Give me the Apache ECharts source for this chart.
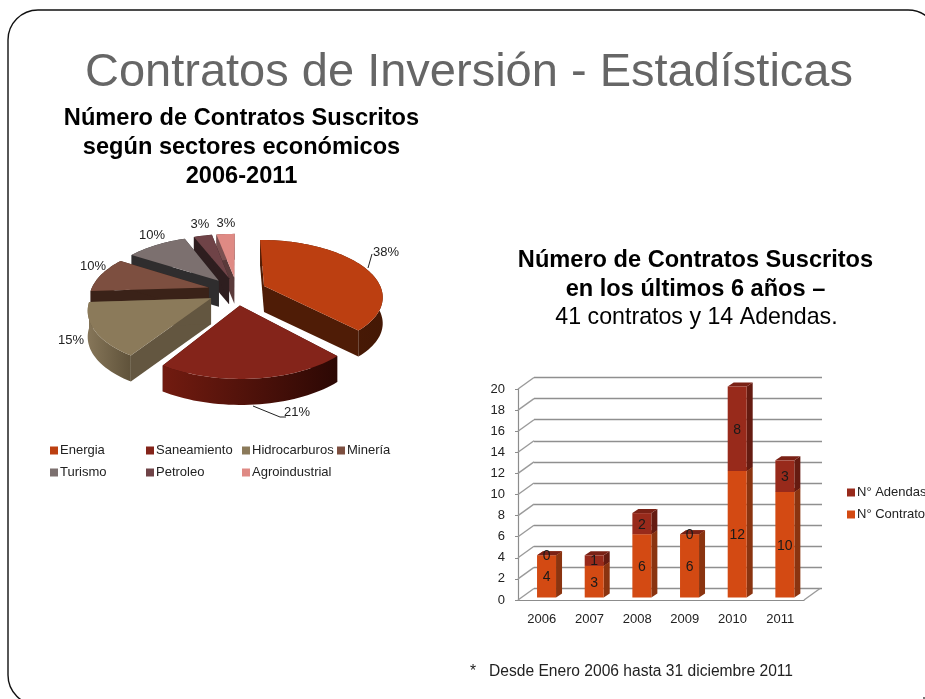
<!DOCTYPE html>
<html><head><meta charset="utf-8">
<style>html,body{margin:0;padding:0;background:#fff;overflow:hidden}#c{width:925px;height:699px}</style>
<script src="https://cdn.jsdelivr.net/npm/echarts@6/dist/echarts.min.js"></script>
</head><body><div id="c"></div>
<script>
// ---- data ----
const sectors = ['Energia','Saneamiento','Hidrocarburos','Minería','Turismo','Petroleo','Agroindustrial'];
const sectorShares = [38,21,15,10,10,3,3];
const years = ['2006','2007','2008','2009','2010','2011'];
const contratos = [4,3,6,6,12,10];
const adendas = [0,1,2,0,8,3];
const yTicks = [0,2,4,6,8,10,12,14,16,18,20];

// ---- styling ----
const FONT = '"Liberation Sans", Arial, sans-serif';
const topColors = ['#BC3F11','#84241A','#8B7A5A','#7D4F40','#7C706F','#6F4347','#DF8A84'];
const wallColors = [['#521D06','#441805'],['#721B10','#2C0804'],['#867659','#5F523A'],['#3A2218','#3A2218'],['#2F2D2E','#2F2D2E'],['#2E1E1F','#2E1E1F'],['#7A5050','#7A5050']];
const cutColors = ['#4F1C06','#3B0C06','#635640','#3A2218','#2F2D2E','#2E1E1F','#5A3A3A'];
const paintRank = [5,6,4,3,2,1,0];
const labelAnchors = [[386,252],[297,412],[71,340],[93,266],[152,235],[200,224],[226,223]];
const leaders = {0:[[368,268],[372,254]],1:[[253,406],[280,417],[286,417]]};
const PIE = {cx:237,cy:291,S:118,t:0.47,k:0.17,ex:0.25,depth:26};

const total = sectorShares.reduce((a,b)=>a+b,0);
const spans = []; { let a=0; sectorShares.forEach(v=>{const d=v/total*360; spans.push([a,a+d]); a+=d;}); }
const rad = d=>d*Math.PI/180;
function proj(i,theta,r,z){
  const mid = rad((spans[i][0]+spans[i][1])/2), th = rad(theta);
  const u = PIE.ex*Math.sin(mid)+r*Math.sin(th), v = -PIE.ex*Math.cos(mid)-r*Math.cos(th);
  const p = 1/(1-PIE.k*v);
  return [PIE.cx+PIE.S*u*p, PIE.cy+PIE.S*PIE.t*v*p+(z||0)];
}
function pieItem(i){
  return function(){
    const [a,b]=spans[i], arc=[], n=Math.max(4,Math.ceil((b-a)/2));
    for(let j=0;j<=n;j++) arc.push(a+(b-a)*j/n);
    const topPts=[proj(i,a,0)].concat(arc.map(t=>proj(i,t,1)));
    const wall=arc.map(t=>proj(i,t,1)).concat(arc.slice().reverse().map(t=>proj(i,t,1,PIE.depth)));
    const cut=t=>[proj(i,t,0),proj(i,t,1),proj(i,t,1,PIE.depth),proj(i,t,0,PIE.depth)];
    const poly=(pts,fill)=>({type:'polygon',shape:{points:pts},style:{fill:fill,stroke:null}});
    const grad=new echarts.graphic.LinearGradient(0,0,1,0,[{offset:0,color:wallColors[i][0]},{offset:1,color:wallColors[i][1]}]);
    const kids=[poly(cut(a),cutColors[i]),poly(cut(b),cutColors[i]),poly(wall,grad),poly(topPts,topColors[i])];
    if(leaders[i]) kids.push({type:'polyline',shape:{points:leaders[i]},style:{stroke:'#222',lineWidth:1,fill:null}});
    kids.push({type:'text',x:labelAnchors[i][0],y:labelAnchors[i][1],style:{text:sectorShares[i]+'%',font:'13px '+FONT,fill:'#222',textAlign:'center',textVerticalAlign:'middle'}});
    return {type:'group',children:kids};
  };
}
const pieSeries = sectors.map((name,i)=>({
  type:'custom',name:name,coordinateSystem:'none',z:10+paintRank[i],silent:true,
  itemStyle:{color:topColors[i]},data:[[sectorShares[i]]],renderItem:pieItem(i)
}));

// ---- 3D stacked bars ----
const BAR={w:19,dx:4.7,dy:2.5,sx:6,sy:4};
const WALL={dx:16,dy:-11.5};
function barItem(front,side,topc){
  return function(params,api){
    const cat=api.value(0), lo=api.value(1), hi=api.value(2), val=hi-lo;
    const a=api.coord([cat,lo]), b=api.coord([cat,hi]);
    const x0=a[0]+BAR.dx-BAR.w/2, x1=x0+BAR.w, y0=a[1]-BAR.dy, y1=b[1]-BAR.dy;
    const poly=(pts,f)=>({type:'polygon',shape:{points:pts},style:{fill:f}});
    const kids=[
      poly([[x1,y0],[x1+BAR.sx,y0-BAR.sy],[x1+BAR.sx,y1-BAR.sy],[x1,y1]],side),
      poly([[x0,y1],[x0+BAR.sx,y1-BAR.sy],[x1+BAR.sx,y1-BAR.sy],[x1,y1]],topc),
      {type:'rect',shape:{x:x0,y:y1,width:BAR.w,height:y0-y1},style:{fill:front}},
      {type:'text',z2:5,x:(x0+x1)/2,y:(y0+y1)/2+1,style:{text:String(val),font:'14px '+FONT,fill:'#1a1a1a',textAlign:'center',textVerticalAlign:'middle'}}
    ];
    return {type:'group',children:kids};
  };
}
const wallDiagonals = function(params,api){
  const v=api.value(0), l=api.coord([0,v]);
  const x=l[0]-api.size([1,0])[0]/2;
  return {type:'line',shape:{x1:x,y1:l[1],x2:x+WALL.dx,y2:l[1]+WALL.dy},style:{stroke:'#9a9a9a',lineWidth:1.4}};
};
const floorEdge = function(params,api){
  const s=api.coord([years.length-1,0]); const w=api.size([1,0])[0];
  const x=s[0]+w/2;
  return {type:'line',shape:{x1:x,y1:s[1],x2:x+WALL.dx,y2:s[1]+WALL.dy},style:{stroke:'#9a9a9a',lineWidth:1.4}};
};
const contratoRows=years.map((y,i)=>[i,0,contratos[i]]);
const adendaRows=years.map((y,i)=>[i,contratos[i],contratos[i]+adendas[i]]);

const gridBox={left:518,top:389,width:286,height:211};
const titleStyle=(size,weight,color,lh)=>({fontFamily:FONT,fontSize:size,fontWeight:weight,color:color,lineHeight:lh,align:'center'});
const chart=echarts.init(document.getElementById('c'),null,{renderer:'canvas'});
chart.setOption({
  animation:false,backgroundColor:'#fff',
  title:[
    {text:'Contratos de Inversión - Estadísticas',left:469,top:43,textAlign:'center',textStyle:titleStyle(47,'normal','#666666',60),padding:0},
    {text:'Número de Contratos Suscritos\nsegún sectores económicos\n2006-2011',left:241.5,top:104,textAlign:'center',textStyle:titleStyle(23.6,'bold','#000',29),padding:0},
    {text:'Número de Contratos Suscritos\nen los últimos 6 años –',left:695.5,top:246,textAlign:'center',textStyle:titleStyle(23.6,'bold','#000',29),padding:0},
    {text:'41 contratos y 14 Adendas.',left:696.5,top:303,textAlign:'center',textStyle:titleStyle(23.2,'normal','#000',29),padding:0},
    {text:'*',left:470,top:664,textStyle:titleStyle(15.6,'normal','#222',16),padding:0},
    {text:'Desde Enero 2006 hasta 31 diciembre 2011',left:489,top:664,textStyle:titleStyle(15.6,'normal','#222',16),padding:0}
  ],
  legend:[
    ...[[0,4],[1,5],[2,6],[3]].map((col,k)=>({
      left:[50,146,242,337][k],top:444,orient:'vertical',itemWidth:8,itemHeight:8,itemGap:9,padding:0,selectedMode:false,
      icon:'rect',data:col.map(i=>sectors[i]),textStyle:{fontFamily:FONT,fontSize:13,color:'#222',padding:[0,0,0,-3]}
    })),
    {left:847,top:486,orient:'vertical',itemWidth:8,itemHeight:8,itemGap:9,padding:0,selectedMode:false,icon:'rect',
     data:['N° Adendas','N° Contratos'],textStyle:{fontFamily:FONT,fontSize:13,color:'#222',padding:[0,0,0,-3]}}
  ],
  grid:[gridBox,{left:gridBox.left+WALL.dx,top:gridBox.top+WALL.dy,width:gridBox.width+2,height:gridBox.height}],
  xAxis:[
    {type:'category',gridIndex:0,data:years,axisLine:{lineStyle:{color:'#8c8c8c',width:1.2}},axisTick:{length:4,alignWithLabel:false,lineStyle:{color:'#8c8c8c'}},
     axisLabel:{fontFamily:FONT,fontSize:13,color:'#222',margin:13},splitLine:{show:false}},
    {type:'category',gridIndex:1,data:years,show:false}
  ],
  yAxis:[
    {type:'value',gridIndex:0,min:0,max:20,interval:2,axisLine:{show:true,lineStyle:{color:'#8c8c8c',width:1.2}},axisTick:{show:true,length:3,lineStyle:{color:'#8c8c8c'}},
     axisLabel:{fontFamily:FONT,fontSize:13,color:'#222',margin:13,formatter:v=>yTicks.includes(v)?String(v):''},splitLine:{show:false}},
    {type:'value',gridIndex:1,min:0,max:20,interval:2,axisLine:{show:false},axisTick:{show:false},axisLabel:{show:false},splitLine:{show:true,lineStyle:{color:'#8f8f8f',width:1.4}}}
  ],
  series:[
    ...pieSeries,
    {type:'custom',name:'diagonales',silent:true,xAxisIndex:0,yAxisIndex:0,z:2,data:yTicks.map(v=>[v]),encode:{y:0},renderItem:wallDiagonals},
    {type:'custom',name:'suelo',silent:true,xAxisIndex:0,yAxisIndex:0,z:2,data:[[0]],encode:{y:0},renderItem:floorEdge},
    {type:'custom',name:'N° Contratos',silent:true,xAxisIndex:0,yAxisIndex:0,z:3,itemStyle:{color:'#D34A13'},data:contratoRows,encode:{x:0,y:[1,2]},renderItem:barItem('#D34A13','#8A3410','#A93A10')},
    {type:'custom',name:'N° Adendas',silent:true,xAxisIndex:0,yAxisIndex:0,z:4,itemStyle:{color:'#982A1B'},data:adendaRows,encode:{x:0,y:[1,2]},renderItem:barItem('#982A1B','#651B11','#7A2115')}
  ],
  graphic:[
    {type:'rect',silent:true,z:-1,shape:{x:8,y:10,width:930,height:695,r:30},style:{fill:'none',stroke:'#111',lineWidth:1.4}},
    {type:'rect',silent:true,shape:{x:923,y:697,width:2,height:2},style:{fill:'#777'}}
  ]
});
</script></body></html>
